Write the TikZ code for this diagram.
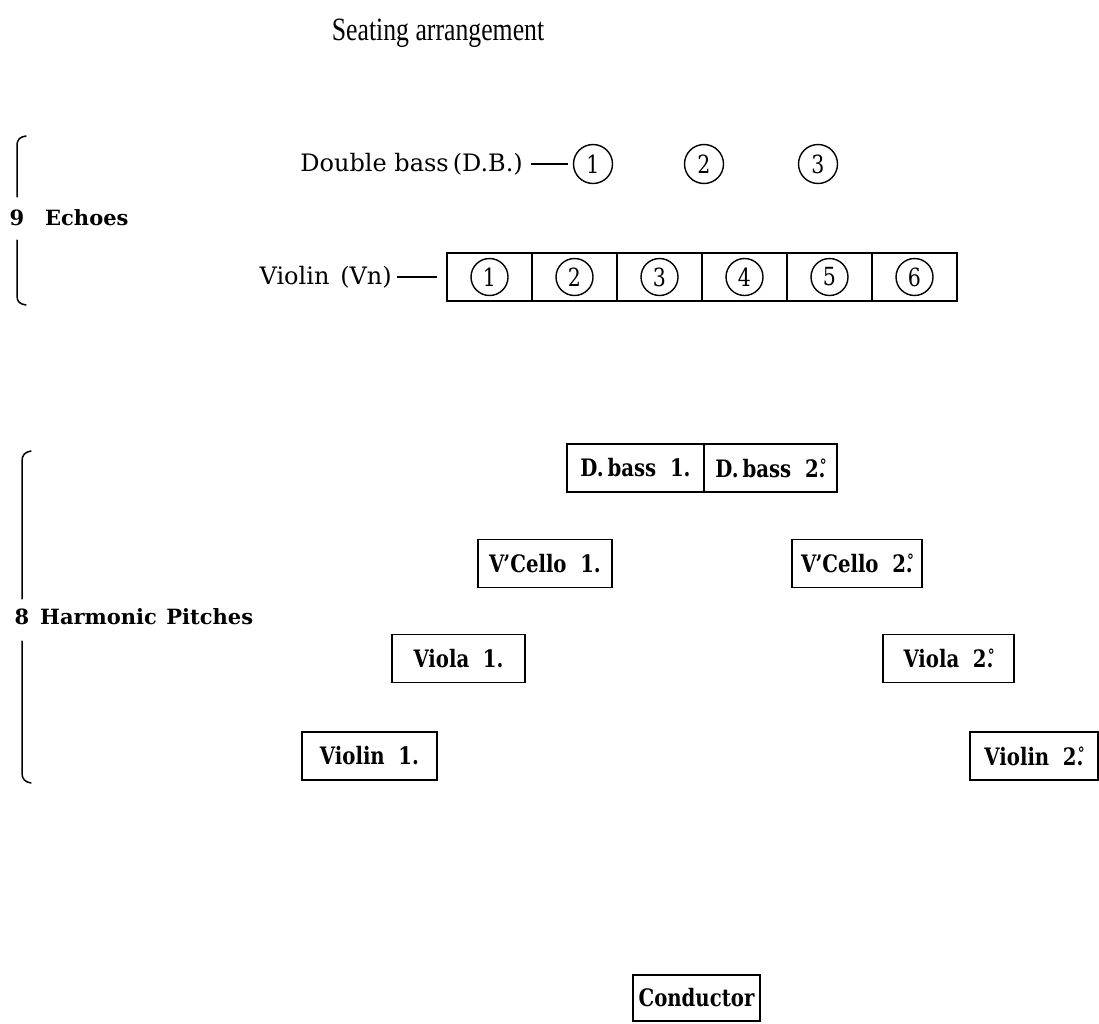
\documentclass[tikz,border=0pt]{standalone}
\usepackage{fontspec}
\setmainfont{DejaVu Serif}
\newfontfamily\titlefont{Liberation Serif}
\newfontfamily\hfont[FakeStretch=0.82]{DejaVu Serif}
\newcommand{\degdot}{\makebox[0pt][l]{\makebox[0.38em][c]{\raisebox{0.24em}{\scalebox{0.7}{°}}}}.}
\begin{document}
\begin{tikzpicture}[x=1pt,y=-1pt,
  lbl/.style={inner sep=0pt, font=\fontsize{24}{28}\selectfont},
  num/.style={circle, draw, line width=1.4pt, minimum size=39pt, inner sep=0pt, font=\hfont\fontsize{25}{29}\selectfont},
  vnum/.style={num, minimum size=37pt},
  cell/.style={draw, line width=1.5pt, minimum width=85pt, minimum height=48pt, inner sep=0pt},
  hbox/.style={draw, line width=1.5pt, minimum height=48pt, inner sep=0pt, font=\hfont\bfseries\fontsize{24}{28}\selectfont},
  brl/.style={font=\bfseries\fontsize{21}{25}\selectfont, inner sep=0pt},
  brace/.style={line width=1.5pt, line cap=round},
  conn/.style={line width=1.4pt}
]
\useasboundingbox (0,0) rectangle (1099,1023);

% title
\node[font=\titlefont\fontsize{25}{30}\selectfont, inner sep=0pt] (title) at (438,33) {\scalebox{1.03}[1.3]{Seating arrangement}};

% brace 1: 9 Echoes
\node[brl] (nine) at (17,218) {9};
\node[brl, anchor=west] (echoes) at (45,218) {Echoes};
\draw[brace] (nine.north) ++(0,-13) -- (17,146) .. controls (17,139) and (20,137) .. (26,136);
\draw[brace] (nine.south) ++(0,14) -- (17,296) .. controls (17,302) and (20,304) .. (26,305);

% double bass row
\node[lbl, anchor=east] (dbl) at (523,164) {Double bass\,(D.B.)};
\node[num] (db1) at (593,164) {1};
\node[num] (db2) at (704,164) {2};
\node[num] (db3) at (818,164) {3};
\draw[conn, shorten <=8pt, shorten >=5pt] (dbl.east) -- (db1.west);

% violin row
\node[lbl, anchor=east] (vnl) at (392,277) {Violin\hspace{0.45em}(Vn)};
\foreach \i in {1,...,6} {
  \node[cell] (vb\i) at ({447+42.5+85*(\i-1)},277) {};
  \node[vnum] (vc\i) at (vb\i) {\i};
}
\draw[conn, shorten <=5pt, shorten >=9pt] (vnl.east) -- (vb1.west);

% brace 2: 8 Harmonic Pitches
\node[brl] (eight) at (22,617) {8};
\node[brl, anchor=west] (harm) at (40,617) {Harmonic\hspace{0.45em}Pitches};
\draw[brace] (eight.north) ++(0,-10) -- (22,461) .. controls (22,455) and (25,452) .. (31,451);
\draw[brace] (eight.south) ++(0,16) -- (22,773) .. controls (22,779) and (25,782) .. (31,783);

% harmonic boxes
\node[hbox, minimum width=137pt] (dbh1) at (635.5,468) {D.\,bass\ \ 1.};
\node[hbox, minimum width=133pt] (dbh2) at (770.5,468) {D.\,bass\ \ 2\degdot};
\node[hbox, minimum width=134pt] (vc1h) at (545,563.5) {V\kern-0.04em’Cello\ \ 1.};
\node[hbox, minimum width=130pt] (vc2h) at (857,563.5) {V\kern-0.04em’Cello\ \ 2\degdot};
\node[hbox, minimum width=133pt] (va1) at (458.5,658.5) {Viola\ \ 1.};
\node[hbox, minimum width=131pt] (va2) at (948.5,658.5) {Viola\ \ 2\degdot};
\node[hbox, minimum width=135pt] (vn1) at (369.5,756) {Violin\ \ 1.};
\node[hbox, minimum width=128pt] (vn2) at (1034,756) {Violin\ \ 2\degdot};
\node[hbox, minimum width=127pt, minimum height=46pt] (cond) at (696.5,998) {Conductor};
\end{tikzpicture}
\end{document}
